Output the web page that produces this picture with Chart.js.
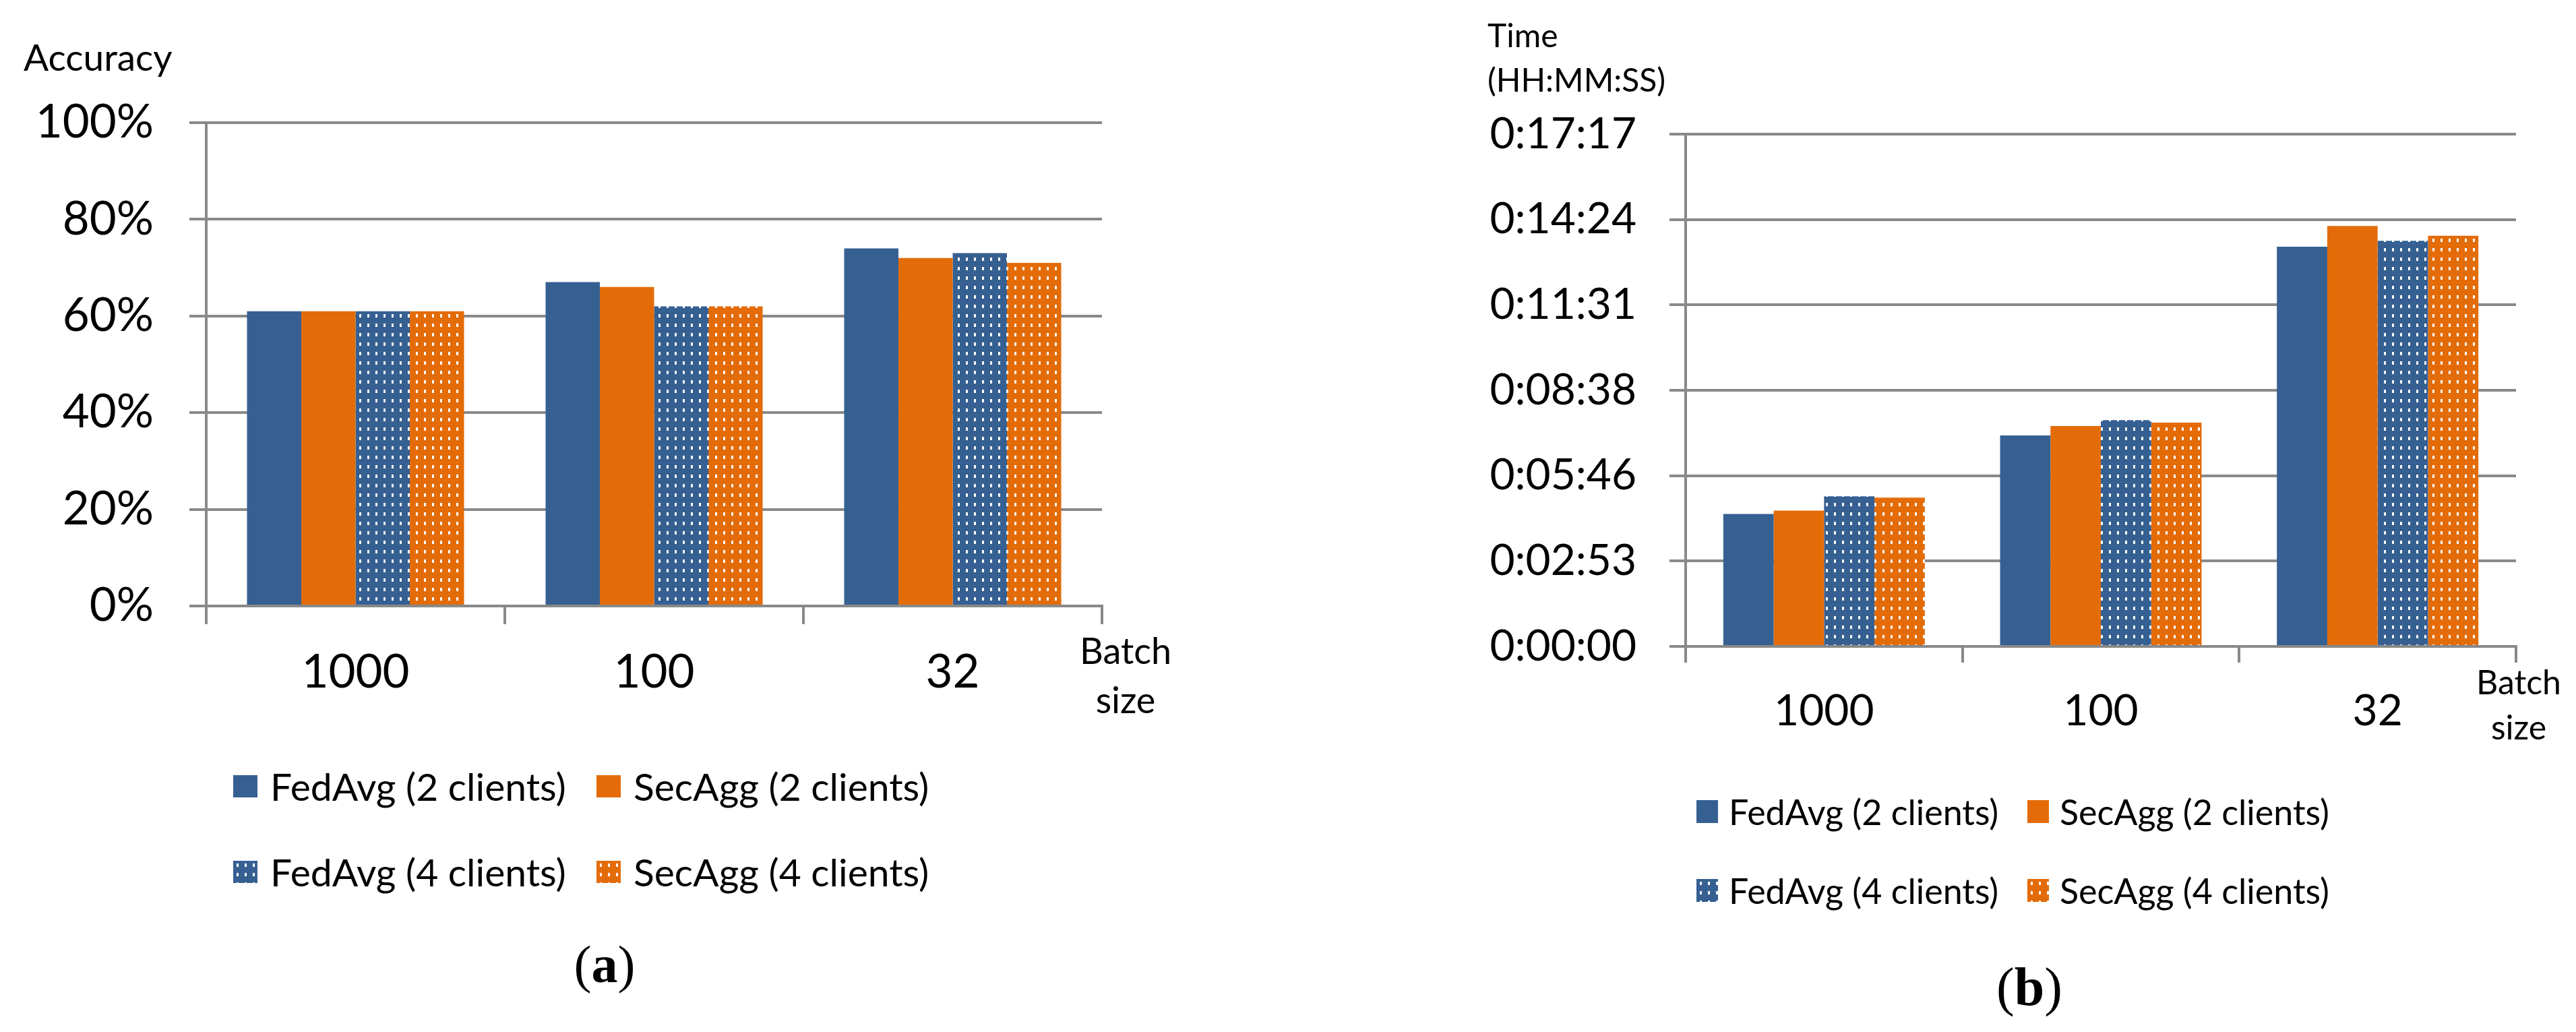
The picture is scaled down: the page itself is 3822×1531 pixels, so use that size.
<!DOCTYPE html>
<html>
<head>
<meta charset="utf-8">
<script src="https://cdn.jsdelivr.net/npm/chart.js@4.4.1/dist/chart.umd.min.js"></script>
<style>
html,body{margin:0;padding:0;background:#fff;}
body{width:3822px;height:1531px;position:relative;overflow:hidden;font-family:Lato,"Open Sans",sans-serif;color:#000;}
.abs{position:absolute;white-space:nowrap;line-height:1;}
canvas.chart{position:absolute;}
.lg{position:absolute;display:flex;align-items:center;white-space:nowrap;line-height:1;}
.cap{position:absolute;font-family:"Liberation Serif","DejaVu Serif",serif;white-space:nowrap;line-height:1;text-align:center;}
</style>
</head>
<body>
<canvas id="chartA" class="chart" width="1760" height="1110" style="left:0px;top:0px;width:1760px;height:1110px"></canvas>
<canvas id="chartB" class="chart" width="1922" height="1110" style="left:1900px;top:0px;width:1922px;height:1110px"></canvas>

<div class="abs" style="left:35px;top:57px;font-size:55px;">Accuracy</div>
<div class="abs" style="left:1570px;top:928px;width:200px;font-size:54px;line-height:73px;text-align:center;">Batch<br>size</div>

<div class="abs" style="left:2207px;top:19px;font-size:48px;line-height:66px;">Time<br>(HH:MM:SS)</div>
<div class="abs" style="left:3637px;top:978px;width:200px;font-size:50px;line-height:67px;text-align:center;">Batch<br>size</div>

<div class="cap" style="left:797px;top:1392px;width:200px;font-size:78px;">(<b>a</b>)</div>
<div class="cap" style="left:2911px;top:1424px;width:200px;font-size:80px;">(<b>b</b>)</div>

<div id="legendA"></div>
<div id="legendB"></div>

<script>
// ---------------- data ----------------
const categories = ['1000', '100', '32'];
const seriesNames = ['FedAvg (2 clients)', 'SecAgg (2 clients)', 'FedAvg (4 clients)', 'SecAgg (4 clients)'];

// (a) accuracy, percent
const accFedAvg2 = [61, 67, 74];
const accSecAgg2 = [61, 66, 72];
const accFedAvg4 = [61, 62, 73];
const accSecAgg4 = [61, 62, 71];
const accTickValues = [0, 20, 40, 60, 80, 100];
const accTickLabels = ['0%', '20%', '40%', '60%', '80%', '100%'];

// (b) time, seconds
const timeFedAvg2 = [268, 427, 809];
const timeSecAgg2 = [275, 446, 851];
const timeFedAvg4 = [304, 458, 821];
const timeSecAgg4 = [301, 453, 831];
const timeTickValues = [0, 172.8, 345.6, 518.4, 691.2, 864, 1036.8];
const timeTickLabels = ['0:00:00', '0:02:53', '0:05:46', '0:08:38', '0:11:31', '0:14:24', '0:17:17'];

// ---------------- styles ----------------
const BLUE = '#366092';
const ORANGE = '#E36C09';
const baseColors = [BLUE, ORANGE, BLUE, ORANGE];
const dotted = [false, false, true, true];
const GRID = '#898989';

function makePattern(color) {
  const c = document.createElement('canvas');
  c.width = 12; c.height = 14;
  const x = c.getContext('2d');
  x.fillStyle = color; x.fillRect(0, 0, 12, 14);
  x.fillStyle = '#ffffff'; x.fillRect(5, 4, 3, 5);
  return c;
}

function fillFor(ctx, i) {
  if (!dotted[i]) return baseColors[i];
  return ctx.createPattern(makePattern(baseColors[i]), 'repeat');
}

function buildChart(canvas, o) {
  const ctx = canvas.getContext('2d');
  const datasets = o.series.map((vals, i) => ({
    label: seriesNames[i],
    data: vals,
    backgroundColor: fillFor(ctx, i),
    borderWidth: 0,
    categoryPercentage: o.catPct,
    barPercentage: 1.0
  }));
  return new Chart(ctx, {
    type: 'bar',
    data: { labels: categories, datasets: datasets },
    options: {
      responsive: false,
      animation: false,
      devicePixelRatio: 1,
      layout: { padding: { left: 0, top: o.top, right: o.right, bottom: 0 } },
      plugins: { legend: { display: false }, tooltip: { enabled: false }, title: { display: false } },
      scales: {
        x: {
          type: 'category',
          grid: { display: true, drawOnChartArea: false, drawTicks: true, tickLength: o.xTickLen, color: GRID, lineWidth: 4, offset: true },
          border: { display: true, color: GRID, width: 4 },
          ticks: { font: { family: 'Lato', size: o.xFont }, color: '#000', padding: o.xPad, maxRotation: 0, autoSkip: false },
          afterFit: s => { s.height = o.xHeight; }
        },
        y: {
          min: o.min, max: o.max,
          grid: { color: GRID, lineWidth: 4, drawTicks: true, tickLength: o.yTickLen },
          border: { display: true, color: GRID, width: 4 },
          ticks: {
            font: { family: 'Lato', size: o.yFont }, color: '#000', padding: o.yPad,
            callback: (v, idx) => o.tickLabels[idx]
          },
          afterBuildTicks: s => { s.ticks = o.tickValues.map(v => ({ value: v })); },
          afterFit: s => { s.width = o.yWidth; }
        }
      }
    }
  });
}

buildChart(document.getElementById('chartA'), {
  series: [accFedAvg2, accSecAgg2, accFedAvg4, accSecAgg4],
  min: 0, max: 100, tickValues: accTickValues, tickLabels: accTickLabels,
  catPct: 0.727, top: 182, right: 125, yWidth: 306, xHeight: 211,
  xTickLen: 27, yTickLen: 25, xFont: 69, yFont: 69, xPad: 30, yPad: 53
});

buildChart(document.getElementById('chartB'), {
  series: [timeFedAvg2, timeSecAgg2, timeFedAvg4, timeSecAgg4],
  min: 0, max: 1036.8, tickValues: timeTickValues, tickLabels: timeTickLabels,
  catPct: 0.728, top: 199, right: 89, yWidth: 601, xHeight: 151,
  xTickLen: 24, yTickLen: 24, xFont: 64, yFont: 64, xPad: 34, yPad: 49
});

// ---------------- legends ----------------
function buildLegend(holder, o) {
  seriesNames.forEach((name, i) => {
    const col = i % 2, row = Math.floor(i / 2);
    const d = document.createElement('div');
    d.className = 'lg';
    d.style.left = o.colX[col] + 'px';
    d.style.top = (o.rowY[row] - 40) + 'px';
    d.style.height = '80px';
    d.style.fontSize = o.font + 'px';
    const sw = document.createElement('canvas');
    sw.width = o.sw; sw.height = o.sh;
    sw.style.width = o.sw + 'px'; sw.style.height = o.sh + 'px';
    sw.style.marginRight = o.gap + 'px';
    const sctx = sw.getContext('2d');
    sctx.fillStyle = fillFor(sctx, i);
    sctx.fillRect(0, 0, o.sw, o.sh);
    const t = document.createElement('span');
    t.textContent = name;
    d.appendChild(sw); d.appendChild(t);
    holder.appendChild(d);
  });
}
buildLegend(document.getElementById('legendA'), { colX: [346, 885], rowY: [1166, 1293], font: 57, sw: 36, sh: 33, gap: 19 });
buildLegend(document.getElementById('legendB'), { colX: [2517, 3008], rowY: [1204, 1321], font: 52, sw: 32, sh: 34, gap: 16 });
</script>
</body>
</html>
